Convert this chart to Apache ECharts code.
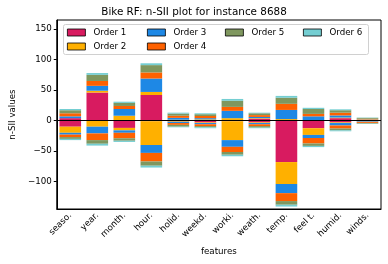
<!DOCTYPE html>
<html>
<head>
<meta charset="utf-8">
<script src="https://cdn.jsdelivr.net/npm/echarts@6/dist/echarts.min.js"></script>
<style>
html,body{margin:0;padding:0;background:#fff;}
#chart{width:388px;height:264px;}
</style>
</head>
<body>
<div id="chart"></div>
<script>
const features = ['seaso.', 'year.', 'month.', 'hour.', 'holid.', 'weekd.', 'worki.', 'weath.', 'temp.', 'feel t.', 'humid.', 'winds.'];
const orderNames = ['Order 1', 'Order 2', 'Order 3', 'Order 4', 'Order 5', 'Order 6'];
const yTicks = [-100, -50, 0, 50, 100, 150];

// positive contributions per order
const order1Pos = [4, 46, 1, 42, 1, 1, 0, 3, 0, 0, 4, 1];
const order2Pos = [0, 3, 7, 5, 0.5, 1, 4, 1, 2.5, 0, 1, 0.5];
const order3Pos = [3, 8, 11, 22, 3, 2, 12, 2, 15, 7, 3.5, 0.5];
const order4Pos = [5, 8, 5, 10, 3.5, 3.5, 6.5, 3, 10, 4, 4.5, 1];
const order5Pos = [5, 10, 5, 12, 3.5, 3, 10, 3, 10, 8, 4, 1.5];
const order6Pos = [2, 3, 2, 3, 1.5, 1.5, 3, 1, 3, 2, 1.5, 0.5];

// negative contributions per order
const order1Neg = [-10, 0, -12, -1, -1, -3, -1, -3, -68, -12.5, -3, -1];
const order2Neg = [-10, -10, -4, -39, -1, -1, -31, -1, -36, -11, -1, -0.5];
const order3Neg = [-3, -11, -4, -13, -2, -2, -11, -2, -15, -5, -4, -1];
const order4Neg = [-4, -11, -9, -14, -3, -3, -8.5, -3, -13, -9, -5, -1.5];
const order5Neg = [-3, -6, -4, -7, -3, -2, -4.5, -2.5, -6, -4, -3, -1];
const order6Neg = [-2, -3, -2, -3, -1, -1.5, -2.5, -1, -3, -2, -1.5, -0.5];

const posData = [order1Pos, order2Pos, order3Pos, order4Pos, order5Pos, order6Pos];
const negData = [order1Neg, order2Neg, order3Neg, order4Neg, order5Neg, order6Neg];
const colors = ['#D81B60', '#FFB000', '#1E88E5', '#FE6100', '#7F975F', '#74CED2'];

const FONT = 'DejaVu Sans';
const chart = echarts.init(document.getElementById('chart'), null, {renderer: 'canvas'});

const series = [];
posData.forEach((d, i) => {
  series.push({
    name: orderNames[i], type: 'bar', stack: 'all', data: d,
    barWidth: '80%', itemStyle: {color: colors[i]}, emphasis: {disabled: true}
  });
});
negData.forEach((d, i) => {
  series.push({
    name: orderNames[i], type: 'bar', stack: 'all', data: d,
    barWidth: '80%', itemStyle: {color: colors[i]}, emphasis: {disabled: true}
  });
});
series[0].markLine = {
  silent: true, symbol: 'none', label: {show: false},
  lineStyle: {color: '#000', width: 1, type: 'solid'},
  data: [{yAxis: 0}], z: 10
};

function legendFor(names, left) {
  return {
    data: names, orient: 'vertical', left: left, top: 28,
    icon: 'rect',
    itemWidth: 18, itemHeight: 7, itemGap: 5,
    textStyle: {fontFamily: FONT, fontSize: 8.7, color: '#000', padding: [0, 0, 0, 3]},
    itemStyle: {borderColor: '#000', borderWidth: 0.8},
    selectedMode: false, padding: 0, z: 20
  };
}

chart.setOption({
  animation: false,
  color: colors,
  title: {
    text: 'Bike RF: n-SII plot for instance 8688', left: 'center', top: 2,
    textStyle: {fontFamily: FONT, fontSize: 10.4, fontWeight: 'normal', color: '#000'}
  },
  graphic: [{
    type: 'rect', shape: {x: 63.5, y: 24.5, width: 305, height: 30, r: 2},
    style: {fill: 'rgba(255,255,255,0.8)', stroke: '#d0d0d0', lineWidth: 1}, z: 15
  }],
  legend: [
    legendFor(['Order 1', 'Order 2'], 67),
    legendFor(['Order 3', 'Order 4'], 147),
    legendFor(['Order 5'], 225),
    legendFor(['Order 6'], 303)
  ],
  grid: {left: 50, right: 7, top: 20, bottom: 55, show: true, borderColor: '#000', borderWidth: 1, backgroundColor: 'transparent'},
  xAxis: {
    type: 'category', data: features,
    name: 'features', nameLocation: 'middle', nameGap: 38,
    nameTextStyle: {fontFamily: FONT, fontSize: 8.7, color: '#000'},
    axisLine: {onZero: false, lineStyle: {color: '#000'}},
    axisTick: {alignWithLabel: true, length: 3, lineStyle: {color: '#000'}},
    axisLabel: {rotate: 45, fontFamily: FONT, fontSize: 8.7, color: '#000', margin: 5, interval: 0}
  },
  yAxis: {
    type: 'value', min: -145, max: 165,
    name: 'n-SII values', nameLocation: 'middle', nameGap: 33,
    nameTextStyle: {fontFamily: FONT, fontSize: 8.7, color: '#000'},
    axisLine: {show: true, lineStyle: {color: '#000'}},
    axisTick: {show: true, length: 3, customValues: yTicks, lineStyle: {color: '#000'}},
    axisLabel: {
      customValues: yTicks, fontFamily: FONT, fontSize: 8.7, color: '#000', margin: 5,
      formatter: v => v < 0 ? '\u2212' + Math.abs(v) : String(v)
    },
    splitLine: {show: false}
  },
  series: series
});
</script>
</body>
</html>
